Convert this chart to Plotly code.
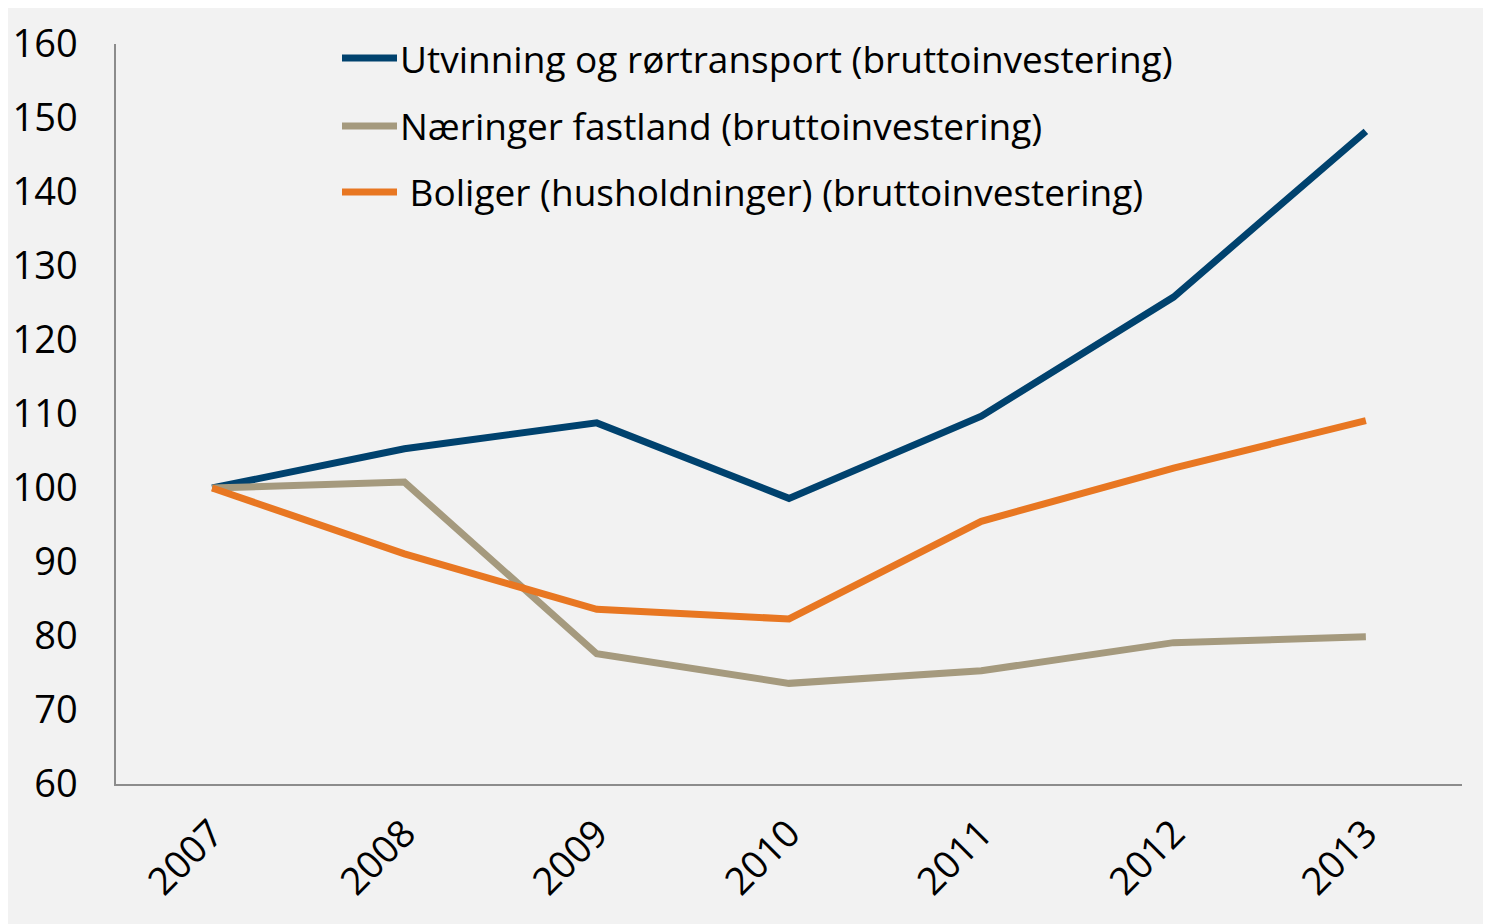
import plotly.graph_objects as go

years = ["2007", "2008", "2009", "2010", "2011", "2012", "2013"]
utvinning = [100, 105.3, 108.8, 98.6, 109.7, 125.8, 148.2]
naeringer = [100, 100.8, 77.6, 73.6, 75.3, 79.1, 79.9]
boliger = [100, 91.1, 83.6, 82.3, 95.5, 102.7, 109.1]

names = [
    "Utvinning og rørtransport (bruttoinvestering)",
    "Næringer fastland (bruttoinvestering)",
    " Boliger (husholdninger) (bruttoinvestering)",
]
colors = ["#00426E", "#A59A7E", "#E87722"]
series = [utvinning, naeringer, boliger]

OFF = 8  # page body margin
W, H = 1491 - OFF, 924 - OFF
L, T = 116 - OFF, 44 - OFF
R = W - (1462 - OFF)
B = H - (784 - OFF)
pw, ph = W - L - R, H - T - B

fig = go.Figure()
for name, vals, c in zip(names, series, colors):
    fig.add_trace(go.Scatter(x=years, y=vals, mode="lines", name=name,
                             line=dict(color=c, width=7), showlegend=False))

FONT = "Open Sans"
shapes = []
annotations = []
leg_y = [58, 126, 192]
for i, (name, c) in enumerate(zip(names, colors)):
    py = (T + ph - (leg_y[i] - OFF)) / ph
    shapes.append(dict(type="line", xref="paper", yref="paper",
                       x0=(342 - OFF - L) / pw, x1=(397 - OFF - L) / pw, y0=py, y1=py,
                       line=dict(color=c, width=7)))
    annotations.append(dict(xref="paper", yref="paper", x=(398 - OFF - L) / pw, y=py,
                            text=name.replace(" ", "&nbsp;", 1) if name.startswith(" ") else name,
                            showarrow=False, xanchor="left", yanchor="middle",
                            font=dict(family=FONT, size=37, color="#000000")))

fig.update_layout(
    width=W, height=H,
    margin=dict(l=L, r=R, t=T, b=B, autoexpand=False),
    paper_bgcolor="#F2F2F2", plot_bgcolor="#F2F2F2",
    shapes=shapes, annotations=annotations,
    xaxis=dict(type="category", range=[-0.5, 6.5], showgrid=False, zeroline=False,
               showline=True, linecolor="#8C8C8C", linewidth=1.5, ticks="",
               automargin=False, ticklabelstandoff=10,
               tickangle=-45, tickfont=dict(family=FONT, size=38, color="#000000")),
    yaxis=dict(range=[60, 160], dtick=10, showgrid=False, zeroline=False,
               showline=True, linecolor="#8C8C8C", linewidth=1.5, ticks="",
               automargin=False, ticklabelstandoff=29,
               tickfont=dict(family=FONT, size=38, color="#000000")),
)

fig.write_html(
    "out.html",
    post_script="document.documentElement.style.overflow='hidden';"
                "document.body.style.overflow='hidden';",
)
